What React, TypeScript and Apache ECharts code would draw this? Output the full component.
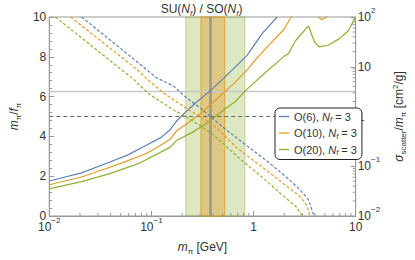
import React, { useEffect, useRef } from "react";
import * as echarts from "echarts";

const FONT = "'Liberation Sans', Arial, sans-serif";
const TXT = "#333";
const FRAME = "#999";

const BLUE = "#5E81B5";
const ORANGE = "#E19C24";
const GREEN = "#8FB032";

// m_pi / f_pi (left axis, solid)
const o6Ratio: [number, number][] = [
  [0.01, 1.76], [0.0207, 2.17], [0.0386, 2.7], [0.0583, 3.06], [0.0883, 3.54],
  [0.1247, 3.95], [0.1535, 4.35], [0.176, 4.76], [0.2023, 5.08], [0.2667, 5.65],
  [0.3775, 6.3], [0.515, 6.94], [0.865, 8.07], [1.23, 9.2], [1.71, 10.0],
];
const o10Ratio: [number, number][] = [
  [0.01, 1.57], [0.0207, 1.96], [0.0386, 2.44], [0.0583, 2.77], [0.0883, 3.13],
  [0.1087, 3.38], [0.1535, 3.87], [0.176, 4.27], [0.217, 4.6], [0.306, 5.16],
  [0.404, 5.73], [0.515, 6.21], [0.656, 6.7], [0.865, 7.34], [1.064, 7.9],
  [1.309, 8.4], [1.983, 9.37], [2.34, 10.0], [3.0, 10.6], [3.93, 10.3],
  [4.34, 10.0], [4.65, 9.86], [5.2, 10.0], [6.2, 10.4],
];
const o20Ratio: [number, number][] = [
  [0.01, 1.36], [0.0207, 1.73], [0.0386, 2.12], [0.0769, 2.66], [0.1535, 3.46],
  [0.176, 3.79], [0.249, 4.19], [0.352, 4.67], [0.404, 4.92], [0.533, 5.4],
  [0.656, 5.73], [0.835, 6.3], [1.309, 7.21], [1.983, 8.01], [2.2, 8.17],
  [2.59, 8.82], [3.45, 9.55], [3.96, 8.74], [4.39, 8.5], [5.4, 8.58],
  [6.88, 8.9], [8.47, 9.3], [10, 10.0],
];

// sigma_scatter / m_pi (right axis, dashed)
const o6Sigma: [number, number][] = [
  [0.0207, 100], [0.0386, 35.7], [0.0718, 12.8], [0.1125, 5.98], [0.1644, 4.13],
  [0.217, 2.44], [0.306, 1.45], [0.3775, 1.0], [0.533, 0.552], [0.703, 0.357],
  [1.39, 0.122], [2.11, 0.0598], [2.8, 0.035], [3.45, 0.0214], [3.91, 0.01],
];
const o10Sigma: [number, number][] = [
  [0.0162, 100], [0.0386, 24.4], [0.0718, 8.94], [0.0883, 5.98], [0.129, 3.06],
  [0.233, 1.35], [0.306, 0.98], [0.4335, 0.593], [0.679, 0.24], [1.39, 0.078],
  [2.11, 0.04], [2.8, 0.0256], [3.33, 0.0164], [3.57, 0.01],
];
const o20Sigma: [number, number][] = [
  [0.0115, 100], [0.0254, 27.3], [0.0474, 9.78], [0.0647, 5.98], [0.0946, 2.83],
  [0.134, 1.79], [0.1644, 1.35], [0.217, 1.0], [0.306, 0.64], [0.4335, 0.379],
  [0.611, 0.2], [0.703, 0.153], [1.22, 0.0598], [1.85, 0.028], [2.61, 0.0154],
  [3.0, 0.01],
];

// reference lines and bands
const ratioLimit = 2 * Math.PI; // m_pi/f_pi
const sigmaTarget = 1; // cm^2/g
const mPiLine = 0.38;
const greenBand: [number, number] = [0.217, 0.824];
const orangeBand: [number, number] = [0.306, 0.523];

const legendNames = ["O(6)", "O(10)", "O(20)"];

const xTickValues = [0.01, 0.1, 1, 10];
const xTickLabels = ["10^−2", "10^−1", "1", "10"];
const yRightTickValues = [0.01, 0.1, 1, 10, 100];
const yRightTickLabels = ["10^−2", "10^−1", "1", "10", "10^2"];
const xMinorTicks = [
  0.02, 0.03, 0.04, 0.05, 0.06, 0.07, 0.08, 0.09,
  0.2, 0.3, 0.4, 0.5, 0.6, 0.7, 0.8, 0.9,
  2, 3, 4, 5, 6, 7, 8, 9,
];
const yRightMinorTicks = [
  0.02, 0.03, 0.04, 0.05, 0.06, 0.07, 0.08, 0.09,
  0.2, 0.3, 0.4, 0.5, 0.6, 0.7, 0.8, 0.9,
  2, 3, 4, 5, 6, 7, 8, 9,
  20, 30, 40, 50, 60, 70, 80, 90,
];

const tickRich = {
  b: { fontSize: 12, lineHeight: 22, fontFamily: FONT, color: TXT },
  p: { fontSize: 8, lineHeight: 8, verticalAlign: "top", fontFamily: FONT, color: TXT },
};

const nameRich = {
  n: { fontSize: 12, lineHeight: 16, fontWeight: "normal", fontFamily: FONT, color: TXT },
  i: { fontSize: 12, lineHeight: 16, fontWeight: "normal", fontStyle: "italic", fontFamily: FONT, color: TXT },
  s: { fontSize: 8, lineHeight: 8, fontWeight: "normal", verticalAlign: "bottom", fontFamily: FONT, color: TXT },
  si: { fontSize: 8, lineHeight: 8, fontWeight: "normal", verticalAlign: "bottom", fontStyle: "italic", fontFamily: FONT, color: TXT },
  p: { fontSize: 8, lineHeight: 8, fontWeight: "normal", verticalAlign: "top", fontFamily: FONT, color: TXT },
};

function powLabel(values: number[], labels: string[]) {
  return (v: number) => {
    const e = Math.round(Math.log10(v));
    const idx = values.findIndex((t) => Math.round(Math.log10(t)) === e);
    if (idx < 0) return "";
    const parts = labels[idx].split("^");
    return parts.length > 1 ? `{b|${parts[0]}}{p|${parts[1]}}` : `{b|${parts[0]}}`;
  };
}

function line(name: string, data: [number, number][], color: string, dashed: boolean, yAxisIndex: number, extra: any = {}) {
  return {
    type: "line",
    name,
    data,
    xAxisIndex: 0,
    yAxisIndex,
    symbol: "none",
    showSymbol: false,
    silent: true,
    clip: true,
    z: 3,
    lineStyle: { color, width: 1.2, type: dashed ? [3, 2] : "solid" },
    itemStyle: { color },
    ...extra,
  };
}

export default function App() {
  const ref = useRef<HTMLDivElement>(null);
  useEffect(() => {
    if (!ref.current) return;
    const chart = echarts.init(ref.current, null, { renderer: "svg" });
    const option: any = {
      animation: false,
      backgroundColor: "#fff",
      title: {
        text: "{n|SU(}{i|N}{si|f}{n|) / SO(}{i|N}{si|f}{n|)}",
        left: 201.5,
        textAlign: "center",
        top: 1,
        padding: 0,
        textStyle: { fontWeight: "normal", rich: nameRich },
      },
      grid: {
        left: 34,
        top: 17,
        right: 47,
        bottom: 37,
        show: true,
        borderColor: FRAME,
        borderWidth: 1,
      },
      legend: {
        data: legendNames,
        orient: "vertical",
        left: 275,
        top: 108,
        z: 20,
        icon: "rect",
        itemWidth: 10,
        itemHeight: 1.3,
        itemGap: 4,
        padding: [3, 5, 3, 4],
        borderColor: "#222",
        borderWidth: 1,
        borderRadius: 5,
        backgroundColor: "#fff",
        selectedMode: false,
        formatter: (name: string) => `{n|${name}, }{i|N}{si|f}{n| = 3}`,
        textStyle: {
          rich: {
            n: { fontSize: 11, lineHeight: 14, fontFamily: FONT, color: TXT },
            i: { fontSize: 11, lineHeight: 14, fontStyle: "italic", fontFamily: FONT, color: TXT },
            si: { fontSize: 7.5, lineHeight: 7, verticalAlign: "bottom", fontStyle: "italic", fontFamily: FONT, color: TXT },
          },
        },
      },
      xAxis: [
        {
          type: "log",
          logBase: 10,
          min: 0.01,
          max: 10,
          position: "bottom",
          axisLine: { show: true, lineStyle: { color: FRAME } },
          axisTick: { show: true, inside: true, length: 5, lineStyle: { color: FRAME } },
          splitLine: { show: false },
          axisLabel: {
            formatter: powLabel(xTickValues, xTickLabels),
            rich: tickRich,
            margin: 0,
            showMinLabel: true,
            showMaxLabel: true,
            hideOverlap: false,
            interval: 0,
          },
          name: "{i|m}{s|π}{n| [GeV]}",
          nameLocation: "middle",
          nameGap: 23,
          nameTextStyle: { rich: nameRich },
        },
      ],
      yAxis: [
        {
          type: "value",
          min: 0,
          max: 10,
          interval: 2,
          position: "left",
          axisLine: { show: true, lineStyle: { color: FRAME } },
          axisTick: { show: true, inside: true, length: 5, lineStyle: { color: FRAME } },
          minorTick: { show: true, splitNumber: 5, length: 3, lineStyle: { color: FRAME } },
          splitLine: { show: false },
          axisLabel: { fontSize: 12, fontFamily: FONT, color: TXT, margin: 3 },
          name: "{i|m}{s|π}{n|/}{i|f}{s|π}",
          nameLocation: "middle",
          nameRotate: 90,
          nameGap: 13,
          nameTextStyle: { rich: nameRich },
        },
        {
          type: "log",
          logBase: 10,
          min: 0.01,
          max: 100,
          position: "right",
          axisLine: { show: true, lineStyle: { color: FRAME } },
          axisTick: { show: true, inside: true, length: 5, lineStyle: { color: FRAME } },
          splitLine: { show: false },
          axisLabel: {
            formatter: powLabel(yRightTickValues, yRightTickLabels),
            rich: tickRich,
            margin: 2,
            showMinLabel: true,
            showMaxLabel: true,
            hideOverlap: false,
            interval: 0,
          },
          name: "{i|σ}{s|scatter}{n|/}{i|m}{s|π}{n| [cm}{p|2}{n|/g]}",
          nameLocation: "middle",
          nameRotate: 90,
          nameGap: 27,
          nameTextStyle: { rich: nameRich },
        },
      ],
      series: [
        line("O(20)", o20Ratio, GREEN, false, 0, {
          markArea: {
            silent: true,
            z: 1,
            data: [
              [
                { xAxis: greenBand[0], itemStyle: { color: "rgba(143,176,50,0.3)", borderColor: "rgba(143,176,50,0.45)", borderWidth: 1 } },
                { xAxis: greenBand[1] },
              ],
              [
                { xAxis: orangeBand[0], itemStyle: { color: "rgba(225,156,36,0.4)", borderColor: "rgba(225,156,36,0.85)", borderWidth: 1 } },
                { xAxis: orangeBand[1] },
              ],
            ],
          },
        }),
        line("O(10)", o10Ratio, ORANGE, false, 0),
        line("O(6)", o6Ratio, BLUE, false, 0, {
          markLine: {
            silent: true,
            symbol: "none",
            z: 2,
            label: { show: false },
            data: [
              { yAxis: ratioLimit, lineStyle: { color: "#c8c8c8", width: 1.3, type: "solid" } },
              { xAxis: mPiLine, lineStyle: { color: "rgba(130,135,145,0.75)", width: 2.5, type: "solid" } },
            ],
          },
        }),
        line("O(6) σ", o6Sigma, BLUE, true, 1, {
          markLine: {
            silent: true,
            symbol: "none",
            z: 2,
            label: { show: false },
            data: [{ yAxis: sigmaTarget, lineStyle: { color: "#666", width: 1, type: [4, 3] } }],
          },
        }),
        line("O(10) σ", o10Sigma, ORANGE, true, 1),
        line("O(20) σ", o20Sigma, GREEN, true, 1),
        {
          type: "custom",
          name: "xminor",
          xAxisIndex: 0,
          yAxisIndex: 0,
          silent: true,
          data: xMinorTicks.map((v) => [v, 0]),
          renderItem: (_p: any, api: any) => {
            const pt = api.coord([api.value(0), 0]);
            return {
              type: "line",
              shape: { x1: pt[0], y1: pt[1], x2: pt[0], y2: pt[1] - 3 },
              style: { stroke: FRAME, lineWidth: 1 },
            };
          },
        },
        {
          type: "custom",
          name: "yminor",
          xAxisIndex: 0,
          yAxisIndex: 1,
          silent: true,
          data: yRightMinorTicks.map((v) => [10, v]),
          renderItem: (_p: any, api: any) => {
            const pt = api.coord([10, api.value(1)]);
            return {
              type: "line",
              shape: { x1: pt[0], y1: pt[1], x2: pt[0] - 3, y2: pt[1] },
              style: { stroke: FRAME, lineWidth: 1 },
            };
          },
        },
      ],
    };
    chart.setOption(option);
    return () => chart.dispose();
  }, []);
  return (
    <div
      ref={ref}
      style={{ position: "fixed", left: 0, top: 0, width: 415, height: 260, background: "#fff" }}
    />
  );
}
